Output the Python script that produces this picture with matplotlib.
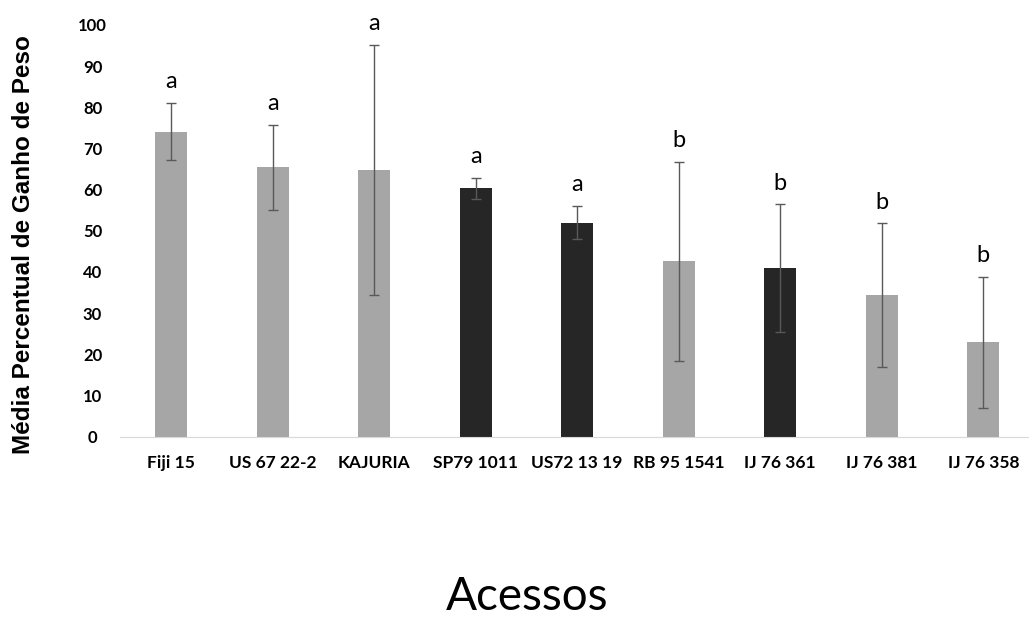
import numpy as np
import matplotlib
matplotlib.use('Agg')
import matplotlib.pyplot as plt

# data
acessos = ['Fiji 15', 'US 67 22-2', 'KAJURIA', 'SP79 1011', 'US72 13 19',
           'RB 95 1541', 'IJ 76 361', 'IJ 76 381', 'IJ 76 358']
media = [74.1, 65.4, 64.8, 60.3, 52.0, 42.6, 40.9, 34.3, 22.9]
erro = [6.9, 10.4, 30.3, 2.6, 4.1, 24.2, 15.5, 17.5, 15.9]
letras = ['a', 'a', 'a', 'a', 'a', 'b', 'b', 'b', 'b']
escuro = [False, False, False, True, True, False, True, False, False]

cores = ['#262626' if d else '#a6a6a6' for d in escuro]

fig = plt.figure(figsize=(10.29, 6.17), dpi=100)
ax = fig.add_axes([0.1169, 0.2925, 0.8831, 0.667])

x = np.arange(len(acessos))
ax.bar(x, media, width=0.315, color=cores, zorder=2)
ax.errorbar(x, media, yerr=erro, fmt='none', ecolor='#595959',
            elinewidth=1, capsize=3.5, capthick=1, zorder=3)

for xi, m, e, l in zip(x, media, erro, letras):
    ax.text(xi, m + e + 2.6, l, ha='center', va='bottom',
            fontsize=17, family='Lato')

ax.set_xlim(-0.5, 8.45)
ax.set_ylim(0, 100)
ax.set_yticks(np.arange(0, 101, 10))
ax.set_xticks(x)
ax.set_xticklabels(acessos, fontsize=12.5, fontweight='bold', family='Lato')
for t in ax.get_yticklabels():
    t.set_fontsize(12)
    t.set_fontweight('bold')
    t.set_family('Lato')
    t.set_ha('center')

for s in ['top', 'right', 'left']:
    ax.spines[s].set_visible(False)
ax.spines['bottom'].set_color('#d9d9d9')
ax.tick_params(axis='both', length=0)
ax.tick_params(axis='x', pad=13)
ax.tick_params(axis='y', pad=20)

fig.text(0.0224, 0.603, 'Média Percentual de Ganho de Peso', rotation=90,
         ha='center', va='center', fontsize=17.5, fontweight='bold',
         family='Liberation Sans')
fig.text(0.512, 0.012, 'Acessos', ha='center', va='baseline',
         fontsize=33, family='Lato')

plt.savefig('out.png', dpi=100)
